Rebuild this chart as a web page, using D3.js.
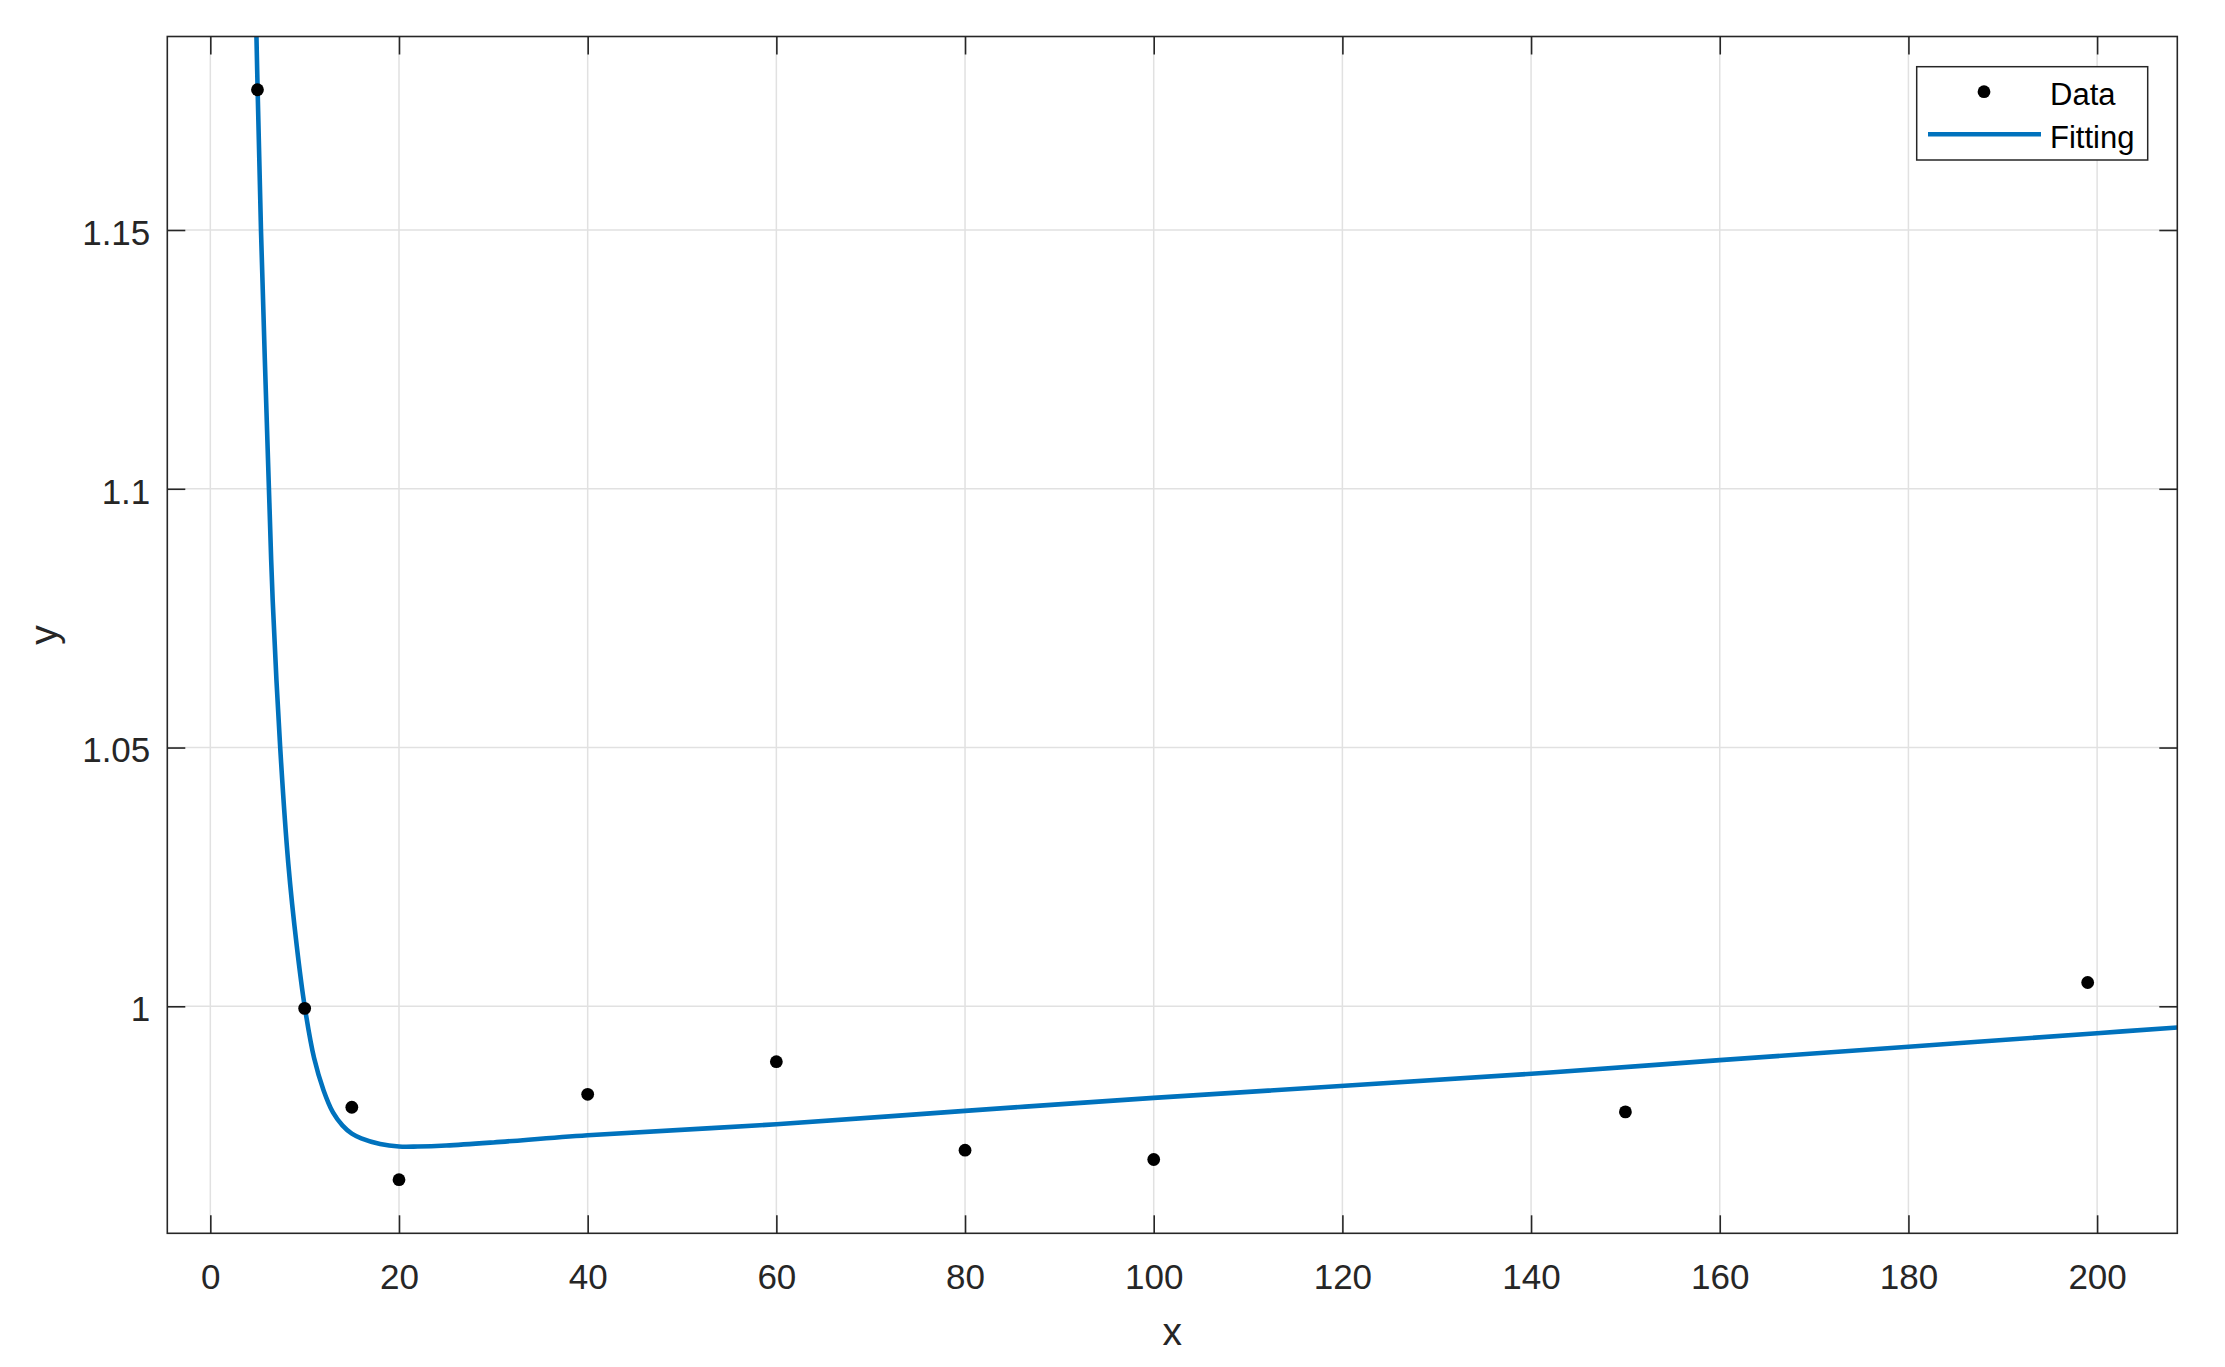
<!DOCTYPE html>
<html>
<head>
<meta charset="utf-8">
<script src="https://cdn.jsdelivr.net/npm/d3@7"></script>
<style>
html,body{margin:0;padding:0;background:#fff;}
svg{display:block;font-family:"Liberation Sans",Arial,Helvetica,sans-serif;}
</style>
</head>
<body>
<svg id="chart" width="2225" height="1367"></svg>
<script>
// ---- data ----
const dataX = [5, 10, 15, 20, 40, 60, 80, 100, 150, 199];
const dataY = [1.1771, 0.9996, 0.9805, 0.9665, 0.9830, 0.9893, 0.9722, 0.9704, 0.9796, 1.0046];

const fitX = [4.89, 5.0, 5.37, 6.26, 6.61, 7.39, 8.27, 9.16, 10.0, 11, 12, 13, 14, 15, 16, 18, 20, 22, 25, 30, 40, 60, 80, 100, 142, 160, 180, 200, 208.5];
const fitY = [1.1874, 1.1782, 1.15, 1.0973, 1.0785, 1.0505, 1.0275, 1.0117, 1.0, 0.9900, 0.9838, 0.9795, 0.9770, 0.9754, 0.9745, 0.9734, 0.9729, 0.9729, 0.9731, 0.9737, 0.9751, 0.9772, 0.9798, 0.9823, 0.9872, 0.9896, 0.9922, 0.9948, 0.9959];

const xTicks = [0, 20, 40, 60, 80, 100, 120, 140, 160, 180, 200];
const yTicks = [1, 1.05, 1.1, 1.15];
const yTickLabels = ["1", "1.05", "1.1", "1.15"];
const xDomain = [-4.56, 208.5];
const yDomain = [0.95614, 1.18739];
const seriesNames = ["Data", "Fitting"];
const axisLabels = ["x", "y"];

// ---- layout ----
const L = 167.3, R = 2177.3, T = 36.5, B = 1233.3;
const axisColor = "#262626";
const gridColor = "#e1e1e1";
const lineColor = "#0072BD";

const svg = d3.select("#chart");
const x = d3.scaleLinear().domain(xDomain).range([L, R]);
const y = d3.scaleLinear().domain(yDomain).range([B, T]);

// grid
const grid = svg.append("g");
grid.selectAll(".gx").data(xTicks).join("line")
  .attr("x1", d => x(d)).attr("x2", d => x(d)).attr("y1", T).attr("y2", B)
  .attr("stroke", gridColor).attr("stroke-width", 1.5);
grid.selectAll(".gy").data(yTicks).join("line")
  .attr("x1", L).attr("x2", R).attr("y1", d => y(d)).attr("y2", d => y(d))
  .attr("stroke", gridColor).attr("stroke-width", 1.5);

// clip
svg.append("clipPath").attr("id", "clip").append("rect")
  .attr("x", L).attr("y", T).attr("width", R - L).attr("height", B - T);

const plot = svg.append("g").attr("clip-path", "url(#clip)");
const fitData = fitX.map((v, i) => [v, fitY[i]]);
plot.append("path").datum(fitData)
  .attr("d", d3.line().x(d => x(d[0])).y(d => y(d[1])).curve(d3.curveCatmullRom.alpha(0.5)))
  .attr("fill", "none").attr("stroke", lineColor).attr("stroke-width", 4.6)
  .attr("stroke-linejoin", "round");

plot.selectAll(".pt").data(dataX.map((v, i) => [v, dataY[i]])).join("circle")
  .attr("cx", d => x(d[0])).attr("cy", d => y(d[1])).attr("r", 6.4).attr("fill", "#000");

// axes
const fs = 35;
const ax = svg.append("g").attr("transform", `translate(0,${B})`)
  .call(d3.axisBottom(x).tickValues(xTicks).tickSizeInner(-18).tickSizeOuter(0).tickPadding(31).tickFormat(d3.format("d")));
const ay = svg.append("g").attr("transform", `translate(${L},0)`)
  .call(d3.axisLeft(y).tickValues(yTicks).tickSizeInner(-18).tickSizeOuter(0).tickPadding(17)
    .tickFormat((d, i) => yTickLabels[i]));
const at = svg.append("g").attr("transform", `translate(0,${T})`)
  .call(d3.axisTop(x).tickValues(xTicks).tickSizeInner(-18).tickSizeOuter(0).tickFormat(""));
const ar = svg.append("g").attr("transform", `translate(${R},0)`)
  .call(d3.axisRight(y).tickValues(yTicks).tickSizeInner(-18).tickSizeOuter(0).tickFormat(""));

[ax, ay, at, ar].forEach(g => {
  g.select(".domain").remove();
  g.selectAll(".tick line").attr("stroke", axisColor).attr("stroke-width", 1.6);
  g.selectAll(".tick text").attr("fill", axisColor).attr("font-size", fs)
    .attr("font-family", "'Liberation Sans', Arial, sans-serif");
});
ay.selectAll(".tick text").attr("dy", "0.41em");

// box
svg.append("rect").attr("x", L).attr("y", T).attr("width", R - L).attr("height", B - T)
  .attr("fill", "none").attr("stroke", axisColor).attr("stroke-width", 1.6);

// axis labels
svg.append("text").attr("x", (L + R) / 2).attr("y", 1345).attr("text-anchor", "middle")
  .attr("font-size", 39).attr("fill", axisColor).text(axisLabels[0]);
svg.append("text").attr("transform", `translate(57,${(T + B) / 2}) rotate(-90)`)
  .attr("text-anchor", "middle").attr("font-size", 39).attr("fill", axisColor).text(axisLabels[1]);

// legend
const lg = svg.append("g");
lg.append("rect").attr("x", 1916.7).attr("y", 66.7).attr("width", 231).attr("height", 93.3)
  .attr("fill", "#fff").attr("stroke", axisColor).attr("stroke-width", 1.5);
lg.append("circle").attr("cx", 1984).attr("cy", 91.7).attr("r", 6.4).attr("fill", "#000");
lg.append("line").attr("x1", 1928).attr("x2", 2041).attr("y1", 134.3).attr("y2", 134.3)
  .attr("stroke", lineColor).attr("stroke-width", 4.6);
lg.append("text").attr("x", 2050).attr("y", 105).attr("font-size", 31).attr("fill", "#000").text(seriesNames[0]);
lg.append("text").attr("x", 2050).attr("y", 148).attr("font-size", 31).attr("fill", "#000").text(seriesNames[1]);
</script>
</body>
</html>
